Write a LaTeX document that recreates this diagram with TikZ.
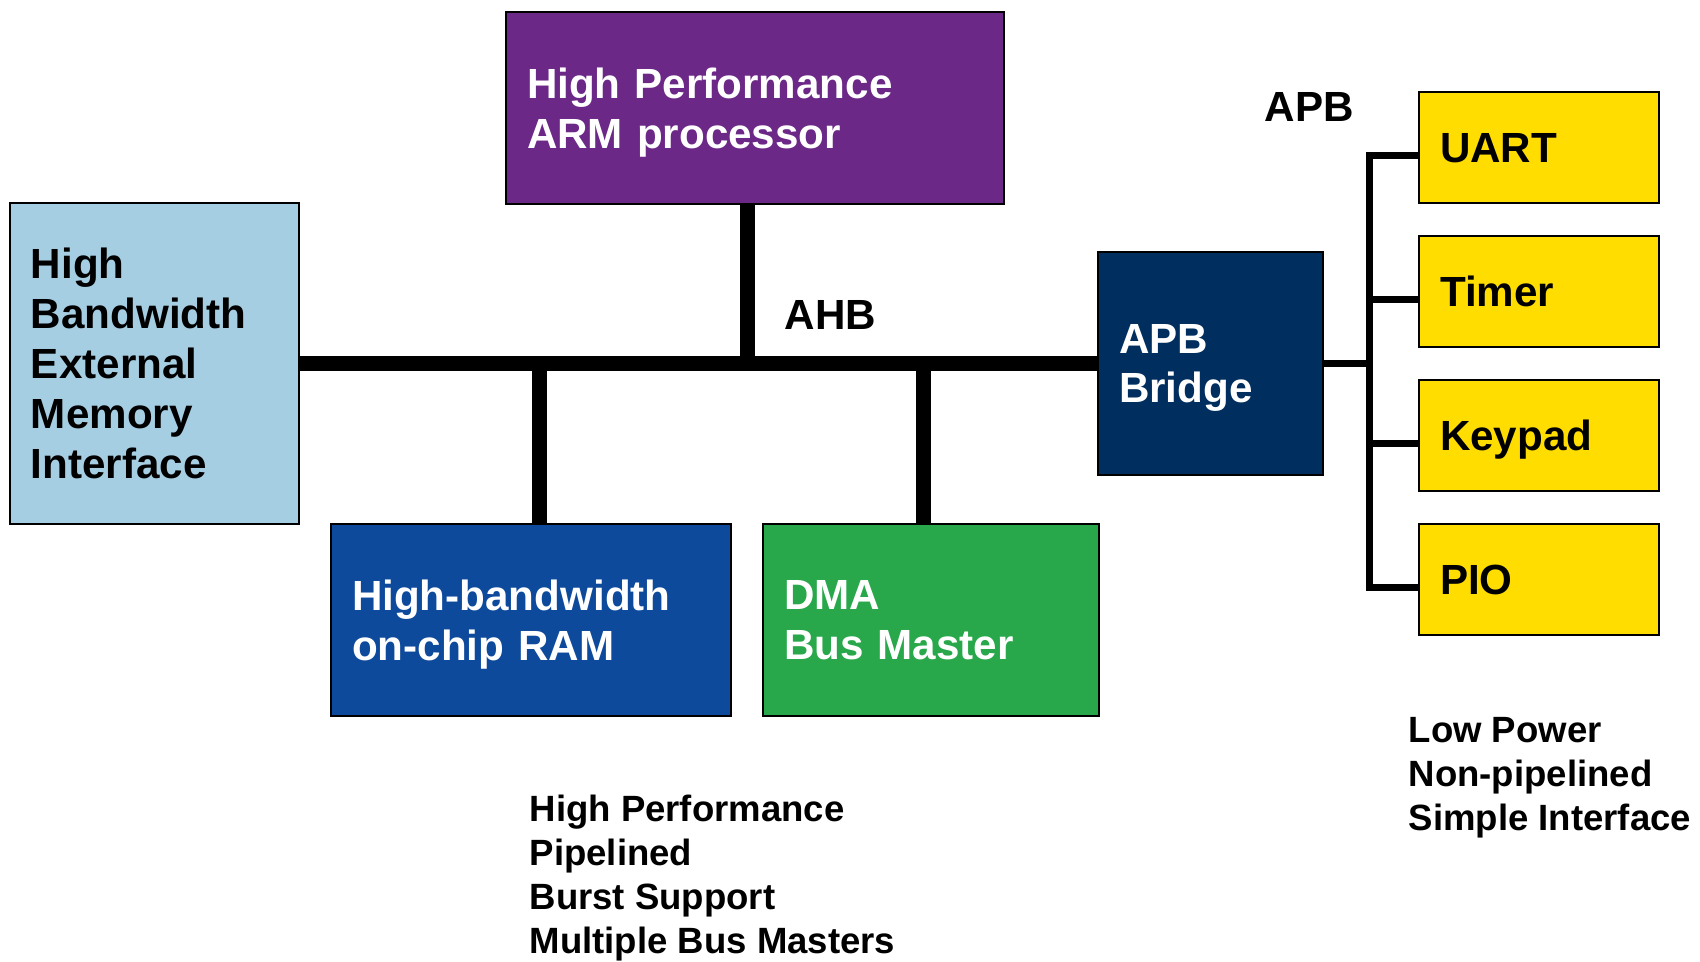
\documentclass[tikz,border=0pt]{standalone}
\usepackage{fontspec}
\setmainfont{Liberation Sans}
\usetikzlibrary{calc}
\definecolor{armpurple}{RGB}{108,40,135}
\definecolor{memblue}{RGB}{166,206,227}
\definecolor{ramblue}{RGB}{14,74,156}
\definecolor{dmagreen}{RGB}{40,168,74}
\definecolor{bridgenavy}{RGB}{0,46,94}
\definecolor{periyellow}{RGB}{255,221,0}
\tikzset{
  blk/.style={draw=black,line width=0.8pt,inner xsep=0.21cm,inner ysep=0pt,align=left,
    font=\fontsize{12}{14.2}\selectfont\bfseries,text=white},
  peri/.style={blk,fill=periyellow,text=black,minimum width=2.4cm,minimum height=1.11cm,
    text width=1.98cm,text depth=0pt},
  ahb/.style={line width=0.15cm},
  apb/.style={line width=0.07cm},
  note/.style={anchor=base west,align=left,inner sep=0pt,font=\fontsize{10.4}{12.5}\selectfont\bfseries}
}
\begin{document}
\begin{tikzpicture}
\useasboundingbox (0,0) rectangle (17,-9.61);
% AHB side
\node[blk,fill=armpurple,minimum width=4.98cm,minimum height=1.92cm,text width=4.56cm,text depth=14.2pt] (arm) at (7.55,-1.08) {High Performance\\ARM processor};
\node[blk,fill=memblue,text=black,minimum width=2.89cm,minimum height=3.21cm,text width=2.47cm,text depth=56.9pt] (mem) at (1.545,-3.635) {High\\Bandwidth\\External\\Memory\\Interface};
\node[blk,fill=ramblue,minimum width=4cm,minimum height=1.92cm,text width=3.58cm,text depth=14.2pt] (ram) at (5.31,-6.2) {High-bandwidth\\on-chip RAM};
\node[blk,fill=dmagreen,minimum width=3.36cm,minimum height=1.92cm,text width=2.94cm,text depth=14.2pt] (dma) at (9.31,-6.2) {DMA\\Bus Master};
\node[blk,fill=bridgenavy,minimum width=2.25cm,minimum height=2.23cm,text width=1.83cm,text depth=14.2pt] (bridge) at (12.105,-3.635) {APB\\Bridge};
% APB side
\node[peri] (uart) at (15.39,-1.475) {UART};
\node[peri] (timer) at (15.39,-2.915) {Timer};
\node[peri] (keypad) at (15.39,-4.355) {Keypad};
\node[peri] (pio) at (15.39,-5.795) {PIO};
% buses
\coordinate (jram) at (5.39,-3.64);
\coordinate (jarm) at (7.47,-3.64);
\coordinate (jdma) at (9.23,-3.64);
\draw[ahb] (mem.east) -- (bridge.west);
\draw[ahb] (arm.south -| jarm) -- (jarm);
\draw[ahb] (jram) -- (jram |- ram.north);
\draw[ahb] (jdma) -- (jdma |- dma.north);
\draw[apb] ($(uart.west)+(0,-0.08)$) -| ($(pio.west)+(-0.48,-0.08)$) -- ($(pio.west)+(0,-0.08)$);
\foreach \n in {timer,keypad} \draw[apb] ($(\n.west)+(0,-0.08)$) -- ++(-0.48,0);
\draw[apb] (bridge.east) -- ++(0.48,0);
% labels
\node[note,font=\fontsize{12}{14.2}\selectfont\bfseries] (ahblbl) at (7.84,-3.29) {AHB};
\node[note,font=\fontsize{12}{14.2}\selectfont\bfseries] (apblbl) at (12.64,-1.21) {APB};
\node[note] (ahbnote) at (5.29,-9.53) {High Performance\\Pipelined\\Burst Support\\Multiple Bus Masters};
\node[note] (apbnote) at (14.08,-8.30) {Low Power\\Non-pipelined\\Simple Interface};
\end{tikzpicture}
\end{document}
